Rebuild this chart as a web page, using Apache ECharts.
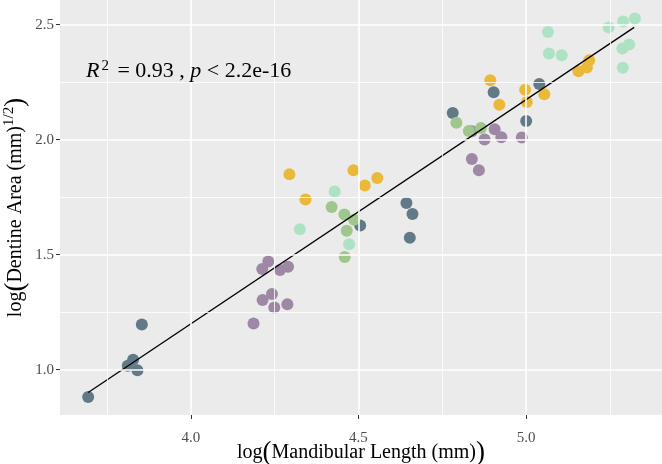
<!DOCTYPE html>
<html>
<head>
<meta charset="utf-8">
<script src="https://cdn.jsdelivr.net/npm/echarts@6/dist/echarts.min.js"></script>
<style>
  html, body { margin: 0; padding: 0; background: #fff; }
  #chart { width: 662px; height: 464px; }
</style>
</head>
<body>
<div id="chart"></div>
<script>
// groups: [log mandibular length, log dentine area]
var slatePts = [[3.694, 0.881], [3.854, 1.196], [3.812, 1.017], [3.828, 1.043], [3.841, 0.997],
  [4.643, 1.725], [4.661, 1.677], [4.653, 1.574], [4.505, 1.627], [4.781, 2.116],
  [4.903, 2.206], [5.039, 2.242], [5.000, 2.081]];
var purplePts = [[4.231, 1.470], [4.213, 1.438], [4.266, 1.433], [4.290, 1.447], [4.242, 1.329],
  [4.214, 1.303], [4.249, 1.270], [4.288, 1.284], [4.187, 1.201], [4.838, 2.036],
  [4.876, 2.001], [4.906, 2.045], [4.926, 2.010], [4.987, 2.009], [4.838, 1.916], [4.859, 1.867]];
var greenPts = [[4.420, 1.707], [4.458, 1.675], [4.487, 1.652], [4.465, 1.604], [4.459, 1.490],
  [4.792, 2.073], [4.829, 2.038], [4.865, 2.051]];
var mintPts = [[4.429, 1.775], [4.325, 1.610], [4.472, 1.545], [5.065, 2.468], [5.068, 2.374],
  [5.106, 2.367], [5.246, 2.488], [5.289, 2.514], [5.324, 2.527], [5.287, 2.396],
  [5.307, 2.414], [5.288, 2.312]];
var goldPts = [[4.294, 1.849], [4.342, 1.740], [4.485, 1.867], [4.519, 1.801], [4.556, 1.833],
  [4.893, 2.258], [4.920, 2.152], [4.997, 2.217], [5.002, 2.164], [5.054, 2.197],
  [5.156, 2.297], [5.181, 2.314], [5.188, 2.345]];
var fitLine = [[3.694, 0.901], [5.322, 2.488]];

var xTicks = [4.0, 4.5, 5.0];
var xMinor = [3.75, 4.25, 4.75, 5.25];
var yTicks = [1.0, 1.5, 2.0, 2.5];
var yMinor = [1.25, 1.75, 2.25];

var serif = 'Liberation Serif';

function gridLines(vals, key, w) {
  return vals.map(function (v) {
    var d = {};
    d[key] = v;
    d.lineStyle = { color: '#fff', width: w, type: 'solid' };
    return d;
  });
}

function pts(name, data, color) {
  return {
    name: name, type: 'scatter', data: data, z: 3,
    symbolSize: 12,
    itemStyle: { color: color, opacity: 1 }
  };
}

var chart = echarts.init(document.getElementById('chart'));
var option = {
  animation: false,
  grid: {
    left: 60, right: 0, top: 0, bottom: 49, show: true, backgroundColor: '#ebebeb', borderWidth: 0,
    containLabel: false, outerBoundsMode: 'none'
  },
  xAxis: {
    type: 'value', min: 3.61, max: 5.405,
    splitLine: { show: false },
    axisLine: { show: false },
    axisTick: { show: true, customValues: xTicks, length: 4, lineStyle: { color: '#333', width: 1 } },
    axisLabel: {
      customValues: xTicks, color: '#4d4d4d', fontFamily: serif, fontSize: 15, margin: 16,
      formatter: function (v) { return v.toFixed(1); }
    },
    name: '{a|log}{p|(}{a|Mandibular Length (mm)}{p|)}',
    nameLocation: 'middle', nameGap: 24, nameMoveOverlap: false,
    nameTextStyle: {
      rich: {
        a: { fontFamily: serif, fontSize: 20, color: '#000' },
        p: { fontFamily: serif, fontSize: 27, color: '#000' }
      }
    }
  },
  yAxis: {
    type: 'value', min: 0.803, max: 2.607,
    splitLine: { show: false },
    axisLine: { show: false },
    axisTick: { show: true, customValues: yTicks, length: 4, lineStyle: { color: '#333', width: 1 } },
    axisLabel: {
      customValues: yTicks, color: '#4d4d4d', fontFamily: serif, fontSize: 15, margin: 6,
      formatter: function (v) { return v.toFixed(1); }
    },
    name: '{a|log}{p|(}{a|Dentine Area (mm)}{s|1/2}{p|)}',
    nameLocation: 'middle', nameGap: 31, nameMoveOverlap: false,
    nameTextStyle: {
      rich: {
        a: { fontFamily: serif, fontSize: 20, color: '#000' },
        s: { fontFamily: serif, fontSize: 15, color: '#000', verticalAlign: 'top', padding: [0, 0, 10, 0] },
        p: { fontFamily: serif, fontSize: 27, color: '#000' }
      }
    }
  },
  graphic: [{
    type: 'text', left: 86, top: 59, z: 10,
    style: {
      text: '{i|R}{s|2}{n| = 0.93 , }{i|p}{n| < 2.2e-16}',
      rich: {
        i: { fontFamily: serif, fontSize: 22, fontStyle: 'italic', fill: '#000' },
        n: { fontFamily: serif, fontSize: 22, fill: '#000' },
        s: { fontFamily: serif, fontSize: 15, fill: '#000', verticalAlign: 'top', padding: [0, 3, 10, 2] }
      }
    }
  }],
  series: [
    {
      type: 'scatter', data: [], z: 1, silent: true,
      markLine: {
        silent: true, symbol: 'none', label: { show: false }, animation: false,
        data: gridLines(xMinor, 'xAxis', 0.8).concat(gridLines(yMinor, 'yAxis', 0.8))
          .concat(gridLines(xTicks, 'xAxis', 1.6)).concat(gridLines(yTicks, 'yAxis', 1.6))
      }
    },
    pts('slate', slatePts, '#627a86'),
    pts('purple', purplePts, '#9e88a5'),
    pts('green', greenPts, '#9fc68c'),
    pts('mint', mintPts, '#ade2c4'),
    pts('gold', goldPts, '#ebb93a'),
    {
      type: 'line', data: fitLine, z: 4, symbol: 'none', silent: true,
      lineStyle: { color: '#000', width: 1.3 }
    }
  ]
};
chart.setOption(option);
</script>
</body>
</html>
